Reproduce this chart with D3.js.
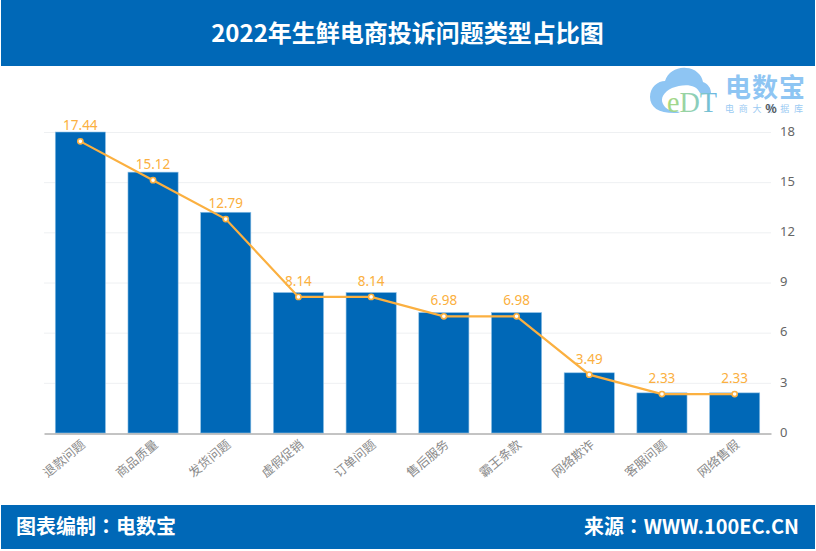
<!DOCTYPE html>
<html><head><meta charset="utf-8">
<script src="https://cdn.jsdelivr.net/npm/d3@7"></script>
<style>html,body{margin:0;padding:0;background:#fff;overflow:hidden}svg{display:block}text{font-family:"Noto Sans CJK SC","Noto Sans",sans-serif}</style>
</head><body><svg id="c" width="816" height="551"></svg>
<script>
const categories=["退款问题","商品质量","发货问题","虚假促销","订单问题","售后服务","霸王条款","网络欺诈","客服问题","网络售假"];
const barValues=[18,15.6,13.2,8.4,8.4,7.2,7.2,3.6,2.4,2.4];
const lineValues=[17.44,15.12,12.79,8.14,8.14,6.98,6.98,3.49,2.33,2.33];
const yTicks=[0,3,6,9,12,15,18];
const titleText="2022年生鲜电商投诉问题类型占比图";
const footerLeft="图表编制：电数宝";
const footerRight="来源：WWW.100EC.CN";
const blue="#0068b7",orange="#fbb040",grey="#666";

const svg=d3.select("#c");
svg.append("rect").attr("x",1).attr("y",0).attr("width",814).attr("height",66).attr("fill",blue);
svg.append("rect").attr("x",1).attr("y",505).attr("width",814).attr("height",44).attr("fill",blue);
svg.append("text").attr("x",407.5).attr("y",42).attr("text-anchor","middle").attr("fill","#fff").attr("font-size",24).attr("font-weight",700).text(titleText);
svg.append("text").attr("x",16).attr("y",534).attr("fill","#fff").attr("font-size",20).attr("font-weight",700).style("font-family","'Noto Sans CJK TC'").text(footerLeft);
svg.append("text").attr("x",799).attr("y",534).attr("text-anchor","end").attr("fill","#fff").attr("font-size",20).attr("font-weight",700).style("font-family","'Noto Sans CJK TC'").attr("textLength",215).attr("lengthAdjust","spacingAndGlyphs").text(footerRight);

// logo
const defs=svg.append("defs");
const lg=defs.append("linearGradient").attr("id","lg").attr("x1",0).attr("x2",1).attr("y1",0).attr("y2",0);
lg.append("stop").attr("offset","0%").attr("stop-color","#a8d97c");
lg.append("stop").attr("offset","55%").attr("stop-color","#8fd0b8");
lg.append("stop").attr("offset","100%").attr("stop-color","#66b5e6");
const logo=svg.append("g");
logo.append("path").attr("fill","#8ec5f3").attr("d","M678 113 C660 114 650 108 650 97 C650 87 658 81 665 81 C668 72 677 67 686 68 C695 68 702 75 703 82 C708 84 711 88 711 93 L700 93 C696 83 682 84 672 88 C664 92 660 98 663 104 C666 110 672 111 680 112 Z");
logo.append("text").attr("x",667).attr("y",112).attr("font-size",29).style("font-family","'Liberation Serif'").attr("fill","url(#lg)").attr("textLength",50).attr("lengthAdjust","spacingAndGlyphs").text("eDT");
logo.append("text").attr("x",725).attr("y",97).attr("font-size",26).attr("font-weight",700).attr("fill","#8ec5f3").attr("textLength",80).text("电数宝");
logo.append("text").attr("x",725).attr("y",112).attr("font-size",9).attr("fill","#9ccbf3").attr("textLength",78).text("电商大数据库");
svg.append("text").attr("x",771).attr("y",113).attr("text-anchor","middle").attr("font-size",12).attr("font-weight",700).attr("fill","#555").text("%");

const x=d3.scaleBand().domain(categories).range([44,771]).paddingInner(.31).paddingOuter(.155);
const y=d3.scaleLinear().domain([0,18]).range([433,132]);

const gy=svg.append("g").attr("transform","translate(771,-1)").call(d3.axisRight(y).tickValues(yTicks).tickSize(0).tickPadding(9));
gy.select(".domain").remove();
gy.selectAll("text").attr("fill",grey).attr("font-size",13).style("font-family","'Noto Sans','Open Sans',sans-serif");
svg.append("g").selectAll("line").data(yTicks.filter(d=>d>0)).join("line")
 .attr("x1",44).attr("x2",771).attr("y1",d=>y(d)+.5).attr("y2",d=>y(d)+.5).attr("stroke","#eef0f2");

svg.append("g").selectAll("rect").data(categories).join("rect")
 .attr("x",d=>x(d)).attr("width",x.bandwidth()).attr("y",(d,i)=>y(barValues[i])).attr("height",(d,i)=>y(0)-y(barValues[i]))
 .attr("fill",blue).attr("stroke","#8fc1e6").attr("stroke-width",.6);

const gx=svg.append("g").attr("transform","translate(0,433.5)").call(d3.axisBottom(x).tickSize(0));
gx.select(".domain").attr("stroke","#888").attr("stroke-width",1);
gx.selectAll("text").attr("fill","#8a8a8a").attr("font-size",12.5).attr("text-anchor","end")
 .attr("transform","translate(3,9) rotate(-40)").attr("dy",".35em").attr("dx",0).attr("y",0).attr("x",0);

const cx=d=>x(d)+x.bandwidth()/2;
const line=d3.line().x(d=>cx(d)).y((d,i)=>y(lineValues[i]));
svg.append("path").datum(categories).attr("d",line).attr("fill","none").attr("stroke",orange).attr("stroke-width",2.2);
svg.append("g").selectAll("circle").data(categories).join("circle")
 .attr("cx",cx).attr("cy",(d,i)=>y(lineValues[i])).attr("r",2.6).attr("fill","#fff").attr("stroke",orange).attr("stroke-width",1.6);
svg.append("g").selectAll("text").data(categories).join("text")
 .attr("x",cx).attr("y",(d,i)=>y(lineValues[i])-11).attr("text-anchor","middle").attr("fill",orange).attr("font-size",13.5)
 .style("font-family","'Noto Sans','Open Sans',sans-serif").text((d,i)=>lineValues[i].toFixed(2));
</script></body></html>
